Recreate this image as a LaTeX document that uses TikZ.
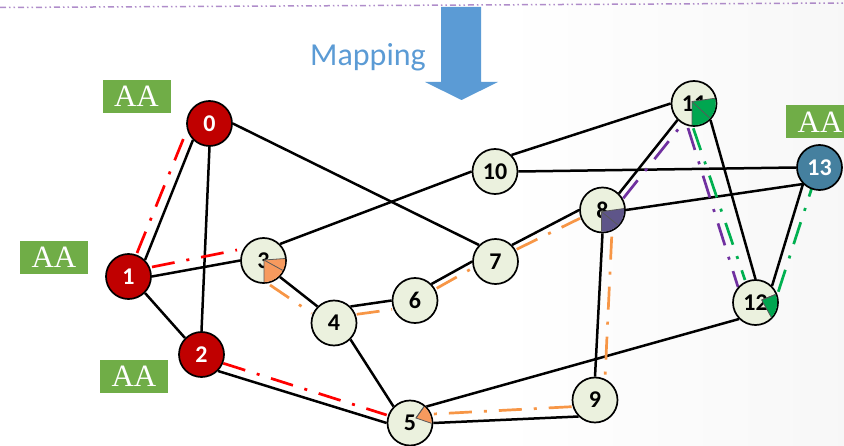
\documentclass[tikz,border=0pt]{standalone}
\usepackage{fontspec}
\setmainfont{Liberation Serif}
\newfontfamily\numfont{Carlito}
\usetikzlibrary{calc}

\definecolor{nodered}{HTML}{C00000}
\definecolor{nodegreen}{HTML}{EBF1DE}
\definecolor{nodeblue}{HTML}{45809F}
\definecolor{aagreen}{HTML}{70AD47}
\definecolor{mapblue}{HTML}{5B9BD5}
\definecolor{dashred}{HTML}{FF0000}
\definecolor{dashorange}{HTML}{F79646}
\definecolor{dashpurple}{HTML}{7030A0}
\definecolor{dashgreen}{HTML}{00B050}
\definecolor{wedgeorange}{HTML}{F79A5E}
\definecolor{wedgepurple}{HTML}{5E5589}
\definecolor{wedgegreen}{HTML}{00A650}

\pgfdeclarelayer{back}
\pgfdeclarelayer{lines}
\pgfsetlayers{back,lines,main}

% filled sector inside a vertex: node, apex dx, apex dy, colour, start, end, divider angle
\newcommand\sectorfill[7]{%
  \begin{scope}
    \clip (#1.center) circle (21.7pt);
    \filldraw[slice, fill=#4] ($(#1.center)+(#2,#3)$) -- ++(#5:30pt)
      arc[start angle=#5, end angle=#6, radius=30pt] -- cycle;
    \draw[slice] ($(#1.center)+(#2,#3)$) -- ++(#7:30pt);
  \end{scope}}

\begin{document}
\begin{tikzpicture}[x=1pt,y=1pt,
  vertex/.style={circle, draw=black, line width=1.7pt, minimum size=45pt, inner sep=0pt,
                 font=\numfont\bfseries\fontsize{24}{24}\selectfont},
  hot/.style={vertex, fill=nodered, text=white},
  plain/.style={vertex, fill=nodegreen, text=black},
  sink/.style={vertex, fill=nodeblue, text=white},
  edge/.style={line width=2.5pt, black},
  route/.style={line width=2.7pt, dash pattern=on 23pt off 12pt on 3pt off 12pt},
  aabox/.style={fill=aagreen, minimum width=68pt, minimum height=33pt, inner sep=0pt,
                text=white, font=\fontsize{31}{31}\selectfont},
  slice/.style={line width=0.8pt, draw=black!65},
  topline/.style={line width=1.5pt, dashpurple, opacity=0.55,
                  dash pattern=on 6pt off 3pt on 1.5pt off 3pt on 1.5pt off 3pt},
]
\useasboundingbox (0,0) rectangle (844,445);
\clip (0,0) rectangle (844,445);

% page background
\begin{pgfonlayer}{back}
  \fill[white] (0,0) rectangle (844,445);
  \shade[left color=white, right color=black!3] (500,0) rectangle (844,445);
\end{pgfonlayer}

% separator line along the top
\coordinate (tl) at (0,437.5);
\coordinate (tr) at (844,442);
\draw[topline] (tl) -- (tr);

% mapping arrow and its label
\fill[mapblue] (441,438) -- (481,438) -- (481,363) -- (498,363) -- (461.5,345)
  -- (425,363) -- (441,363) -- cycle;
\node[font=\numfont\fontsize{32}{32}\selectfont, text=mapblue, anchor=base]
  (maplabel) at (368,379) {Mapping};

% vertices
\node[hot]   (n0)  at (209.5,321.5) {0};
\node[hot]   (n1)  at (128.5,168.5) {1};
\node[hot]   (n2)  at (201.5,90.5)  {2};
\node[plain] (n3)  at (263.5,184.5) {3};
\node[plain] (n4)  at (334,122)     {4};
\node[plain] (n5)  at (410,22)      {5};
\node[plain] (n6)  at (415,144.5)   {6};
\node[plain] (n7)  at (495.5,183.5) {7};
\node[plain] (n8)  at (602.5,235)   {8};
\node[plain] (n9)  at (595,45)      {9};
\node[plain] (n10) at (495,273.5)   {10};
\node[plain] (n11) at (694,341.5)   {11};
\node[plain] (n12) at (755.5,142.5) {12};
\node[sink]  (n13) at (819.5,277.5) {13};

% links and routes, under the vertices
\begin{pgfonlayer}{lines}
  \draw[edge] (n1.45)  -- (n0.225);
  \draw[edge] (n0.270) -- (n2.90);
  \draw[edge] (n0.0)   -- (n7.135);
  \draw[edge] (n1.0)   -- (n3.180);
  \draw[edge] (n1.315) -- (n2.135);
  \draw[edge] (n3.45)  -- (n10.180);
  \draw[edge] (n3.315) -- (n4.135);
  \draw[edge] (n4.45)  -- (n6.180);
  \draw[edge] (n4.315) -- (n5.135);
  \draw[edge] (n6.45)  -- (n7.180);
  \draw[edge] (n7.45)  -- (n8.180);
  \draw[edge] (n2.315) -- (n5.180);
  \draw[edge] (n5.0)   -- (n9.225);
  \draw[edge] (n5.45)  -- (n12.225);
  \draw[edge] (n8.270) -- (n9.90);
  \draw[edge] (n8.45)  -- (n11.225);
  \draw[edge] (n8.0)   -- (n13.225);
  \draw[edge] (n10.45) -- (n11.180);
  \draw[edge] (n10.0)  -- (n13.180);
  \draw[edge] (n11.315) -- (n12.90);
  \draw[edge] (n12.45) -- (n13.225);

  % red route
  \draw[route, dashred] ($(n1)+(8.5,23.5)$)   -- ($(n0)+(-22.5,-6.5)$);
  \draw[route, dashred] ($(n1)+(23.5,9.5)$)   -- ($(n3)+(-26.5,10.5)$);
  \draw[route, dashred] ($(n2)+(21.8,-8.8)$)  -- ($(n5)+(-23.3,8)$);
  % orange route
  \draw[route, dashorange] ($(n3)+(6.5,-24.5)$) -- ($(n4)+(-22.3,9.7)$);
  \draw[route, dashorange] ($(n4)+(22.7,8.7)$)  -- ($(n6)+(-23,-9)$);
  \draw[route, dashorange] ($(n6)+(21.7,12.2)$) -- ($(n7)+(-21.5,-5.8)$);
  \draw[route, dashorange] ($(n7)+(21.2,12.2)$) -- ($(n8)+(-22.5,-8.3)$);
  \draw[route, dashorange] ($(n8)+(9.2,-26.7)$) -- ($(n9)+(10,21.7)$);
  \draw[route, dashorange] ($(n9)+(-23.3,-6.7)$) -- ($(n5)+(23.3,9)$);
  % purple route
  \draw[route, dashpurple] ($(n8)+(20.8,11.7)$) -- ($(n11)+(-14,-23.5)$);
  \draw[route, dashpurple] ($(n11)+(-6,-24.5)$) -- ($(n12)+(-17.5,15.5)$);
  % green route
  \draw[route, dashgreen] ($(n11)+(-0.7,-24.8)$) -- ($(n12)+(-10.5,22.5)$);
  \draw[route, dashgreen] ($(n12)+(22.8,10.8)$)  -- ($(n13)+(-7.8,-20.8)$);
\end{pgfonlayer}

% load sectors
\sectorfill{n3}{0.5}{0.5}{wedgeorange}{4}{-90}{-29}
\sectorfill{n5}{6}{5}{wedgeorange}{55}{-19}{55}
\sectorfill{n8}{-1}{-1.7}{wedgepurple}{8}{-90}{-39}
\sectorfill{n11}{-2}{2}{wedgegreen}{8}{-90}{-43}
\sectorfill{n12}{6.2}{2.5}{wedgegreen}{22}{-61}{22}

% AA tags
\node[aabox] (aa0)  at (136.5,348.5) {AA};
\node[aabox] (aa1)  at (54,187.5)    {AA};
\node[aabox] (aa2)  at (134,69)      {AA};
\node[aabox] (aa13) at (820,323)     {AA};
\end{tikzpicture}
\end{document}
